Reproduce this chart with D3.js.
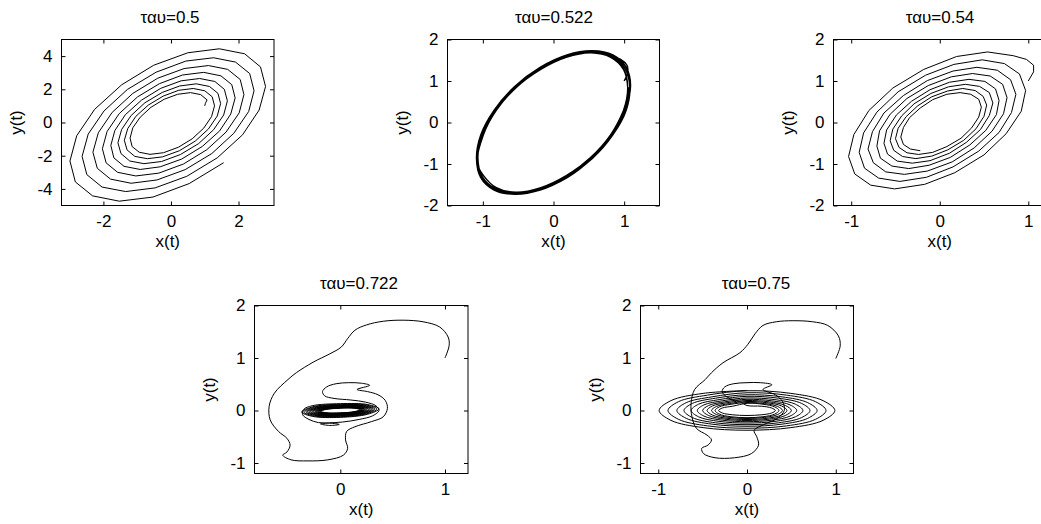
<!DOCTYPE html>
<html>
<head>
<meta charset="utf-8">
<script src="https://cdn.jsdelivr.net/npm/d3@7"></script>
<style>
  body { margin: 0; background: #fff; }
  svg { display: block; overflow: hidden; }
</style>
</head>
<body>
<svg></svg>
<script>
const width = 1041;
const height = 524;

// titles of the five runs
const titles = ['ταυ=0.5', 'ταυ=0.522', 'ταυ=0.54', 'ταυ=0.722', 'ταυ=0.75'];

// tau = 0.5 : spiral growing outwards from (1,1)
const traj050 = [
  [1.00,1.00],[1.02,1.16],
  [1.07,1.36],[0.88,1.68],[0.58,1.80],[0.20,1.70],[-0.20,1.40],[-0.59,0.92],[-0.91,0.32],[-1.13,-0.32],[-1.21,-0.94],[-1.15,-1.45],[-0.94,-1.79],[-0.62,-1.92],[-0.22,-1.82],[0.22,-1.49],[0.63,-0.98],[0.97,-0.34],[1.20,0.35],
  [1.29,1.00],[1.22,1.55],[1.00,1.91],[0.66,2.05],[0.23,1.94],[-0.23,1.59],[-0.67,1.05],[-1.04,0.37],[-1.28,-0.37],[-1.38,-1.07],[-1.30,-1.65],[-1.07,-2.04],[-0.70,-2.18],[-0.25,-2.07],[0.25,-1.70],[0.72,-1.12],[1.11,-0.39],[1.37,0.39],
  [1.47,1.14],[1.39,1.76],[1.14,2.17],[0.75,2.33],[0.26,2.20],[-0.26,1.81],[-0.77,1.19],[-1.18,0.42],[-1.46,-0.42],[-1.57,-1.22],[-1.48,-1.87],[-1.22,-2.32],[-0.80,-2.48],[-0.28,-2.35],[0.28,-1.93],[0.82,-1.27],[1.26,-0.44],[1.56,0.45],
  [1.67,1.30],[1.58,2.00],[1.30,2.47],[0.85,2.65],[0.30,2.51],[-0.30,2.06],[-0.87,1.35],[-1.35,0.47],[-1.66,-0.48],[-1.78,-1.38],[-1.69,-2.13],[-1.39,-2.64],[-0.91,-2.83],[-0.32,-2.67],[0.32,-2.20],[0.93,-1.44],[1.44,-0.51],[1.77,0.51],
  [1.90,1.48],[1.80,2.28],[1.48,2.81],[0.97,3.02],[0.34,2.86],[-0.34,2.34],[-0.99,1.54],[-1.53,0.54],[-1.89,-0.54],[-2.03,-1.58],[-1.92,-2.43],[-1.58,-3.00],[-1.04,-3.22],[-0.36,-3.05],[0.37,-2.50],[1.06,-1.64],[1.63,-0.58],[2.02,0.58],
  [2.16,1.68],[2.05,2.59],[1.68,3.20],[1.11,3.43],[0.39,3.25],[-0.39,2.67],[-1.13,1.75],[-1.74,0.61],[-2.15,-0.62],[-2.31,-1.79],[-2.18,-2.76],[-1.79,-3.41],[-1.18,-3.66],[-0.41,-3.46],[0.42,-2.84],[1.21,-1.87],[1.86,-0.65],[2.30,0.66],
  [2.46,1.91],[2.33,2.95],[1.91,3.64],[1.26,3.90],[0.44,3.70],[-0.44,3.03],[-1.29,1.99],[-1.98,0.70],[-2.45,-0.70],[-2.63,-2.04],[-2.49,-3.14],[-2.04,-3.89],[-1.34,-4.16],[-0.47,-3.94],[0.47,-3.24],[1.37,-2.13],[2.12,-0.74],[2.61,0.75],
  [2.80,2.17],[2.65,3.35],[2.18,4.14],[1.43,4.44],[0.50,4.20],[-0.51,3.45],[-1.46,2.27],[-2.26,0.79],[-2.79,-0.80],[-2.99,-2.32],[-2.83,-3.58],[-2.32,-4.42],[-1.53,-4.74],[-0.53,-4.49],[0.54,-3.68],[1.56,-2.42]
];

// tau = 0.522 : limit cycle, gone round several times
const traj0522 = [
  [1.00,1.00],[1.05,1.20],[1.04,1.38],[0.95,1.52],
  [0.82,1.60],[0.54,1.70],[0.19,1.60],[-0.19,1.30],[-0.54,0.85],[-0.82,0.30],[-1.01,-0.30],[-1.07,-0.85],[-1.01,-1.30],[-0.82,-1.60],[-0.54,-1.70],[-0.19,-1.60],[0.19,-1.30],[0.54,-0.85],[0.82,-0.30],[1.01,0.30],
  [1.09,0.87],[1.03,1.33],[0.84,1.63],[0.55,1.73],[0.19,1.63],[-0.19,1.33],[-0.55,0.87],[-0.84,0.30],[-1.03,-0.30],[-1.09,-0.87],[-1.03,-1.33],[-0.84,-1.63],[-0.55,-1.73],[-0.19,-1.63],[0.19,-1.33],[0.55,-0.87],[0.84,-0.30],[1.03,0.30],
  [1.08,0.85],[1.01,1.31],[0.82,1.61],[0.54,1.71],[0.19,1.61],[-0.19,1.31],[-0.54,0.85],[-0.82,0.30],[-1.01,-0.30],[-1.08,-0.85],[-1.01,-1.31],[-0.82,-1.61],[-0.54,-1.71],[-0.19,-1.61],[0.19,-1.31],[0.54,-0.85],[0.82,-0.30],[1.01,0.30],
  [1.05,0.84],[0.99,1.28],[0.81,1.57],[0.53,1.68],[0.18,1.57],[-0.18,1.28],[-0.53,0.84],[-0.81,0.29],[-0.99,-0.29],[-1.08,-0.98],[-0.99,-1.28],[-0.81,-1.57],[-0.53,-1.68],[-0.18,-1.57],[0.18,-1.28],[0.53,-0.84],[0.81,-0.29],[0.99,0.29],
  [1.05,0.85],[0.99,1.30],[0.81,1.59],[0.52,1.69],[0.17,1.59],[-0.20,1.30],[-0.54,0.85],[-0.83,0.29],[-1.01,-0.29],[-1.07,-0.85],[-1.01,-1.30],[-0.83,-1.59],[-0.54,-1.69],[-0.20,-1.59],[0.17,-1.30],[0.52,-0.85],[0.81,-0.29],[0.99,0.29],
  [1.09,0.86],[1.03,1.32],[0.84,1.61],[0.55,1.72],[0.20,1.61],[-0.18,1.32],[-0.53,0.86],[-0.82,0.30],[-1.01,-0.30],[-1.07,-0.86],[-1.01,-1.32],[-0.82,-1.61],[-0.53,-1.72],[-0.18,-1.61],[0.20,-1.32],[0.55,-0.86],[0.84,-0.30],[1.03,0.30],
  [1.07,0.85]
];

// tau = 0.54 : spiral shrinking inwards from (1,1)
const traj054 = [
  [1.00,1.00],[1.06,1.22],[1.06,1.38],[0.98,1.52],
  [0.83,1.61],[0.54,1.70],[0.19,1.59],[-0.18,1.28],[-0.53,0.83],[-0.80,0.29],[-0.97,-0.29],[-1.03,-0.82],[-0.96,-1.24],[-0.78,-1.51],[-0.51,-1.60],[-0.17,-1.49],[0.17,-1.21],[0.50,-0.78],[0.75,-0.27],[0.92,0.27],
  [0.97,0.77],[0.90,1.17],[0.73,1.42],[0.48,1.51],[0.16,1.40],[-0.16,1.14],[-0.47,0.74],[-0.71,0.25],[-0.86,-0.25],[-0.91,-0.72],[-0.85,-1.10],[-0.69,-1.34],[-0.45,-1.42],[-0.15,-1.32],[0.15,-1.07],[0.44,-0.69],[0.67,-0.24],[0.81,0.24],
  [0.86,0.68],[0.80,1.03],[0.65,1.26],[0.42,1.33],[0.15,1.24],[-0.14,1.01],[-0.41,0.65],[-0.63,0.23],[-0.76,-0.22],[-0.81,-0.64],[-0.75,-0.97],[-0.61,-1.19],[-0.40,-1.25],[-0.14,-1.17],[0.14,-0.95],[0.39,-0.61],[0.59,-0.21],[0.72,0.21],
  [0.76,0.60],[0.71,0.92],[0.57,1.12],[0.37,1.18],[0.13,1.10],[-0.13,0.89],[-0.37,0.58],[-0.56,0.20],[-0.68,-0.20],[-0.71,-0.57],[-0.67,-0.86],[-0.54,-1.05],[-0.35,-1.11],[-0.12,-1.03],[0.12,-0.84],[0.34,-0.54],[0.52,-0.19],[0.64,0.19],
  [0.67,0.53],[0.63,0.81],[0.51,0.99],[0.33,1.04],[0.11,0.97],[-0.11,0.79],[-0.32,0.51],[-0.49,0.18],[-0.60,-0.18],[-0.63,-0.50],[-0.59,-0.76],[-0.48,-0.93],[-0.31,-0.98],[-0.11,-0.92],[0.11,-0.74],[0.30,-0.48],[0.46,-0.17],[0.56,0.17],
  [0.60,0.47],[0.56,0.72],[0.45,0.87],[0.29,0.92],[0.10,0.86],[-0.10,0.70],[-0.29,0.45],[-0.43,0.16],[-0.53,-0.16],[-0.56,-0.44],[-0.52,-0.67],[-0.42,-0.82],[-0.27,-0.87],[-0.09,-0.81],[0.09,-0.66],[0.27,-0.43],[0.41,-0.15],[0.50,0.15],
  [0.53,0.42],[0.49,0.63],[0.40,0.77],[0.26,0.82],[0.09,0.76],[-0.09,0.62],[-0.25,0.40],[-0.38,0.14],[-0.47,-0.14],[-0.50,-0.39],[-0.46,-0.60],[-0.37,-0.73],[-0.24,-0.77],[-0.08,-0.72],[0.08,-0.58],[0.24,-0.38],[0.36,-0.13],[0.44,0.13],
  [0.47,0.37],[0.44,0.56],[0.35,0.68],[0.23,0.72],[0.08,0.68],[-0.08,0.55],[-0.22,0.35],[-0.34,0.12],[-0.41,-0.12],[-0.44,-0.35],[-0.41,-0.53],[-0.33,-0.64],[-0.22,-0.68]
];

// tau = 0.722 : long transient, then a tight ring round the origin
const transient0722 = [
  [1.00,1.00],[1.04,1.24],[1.03,1.40],[0.95,1.59],[0.79,1.69],[0.60,1.72],[0.41,1.70],[0.25,1.63],[0.14,1.53],[0.07,1.37],[0.01,1.21],[-0.10,1.08],[-0.26,0.92],[-0.42,0.72],
  [-0.50,0.59],[-0.63,0.33],[-0.68,0.08],[-0.67,-0.18],[-0.59,-0.40],[-0.51,-0.53],[-0.48,-0.66],[-0.51,-0.79],[-0.55,-0.85],[-0.47,-0.94],[-0.31,-0.96],[-0.12,-0.94],[0.03,-0.85],[0.07,-0.72],[0.05,-0.56],[0.06,-0.40],[0.14,-0.31],[0.30,-0.21],[0.41,-0.12],[0.45,0.04],[0.43,0.19],[0.36,0.30],[0.26,0.36],[0.16,0.40],
  [0.28,0.48],[0.20,0.52],[0.08,0.53],[-0.04,0.51],[-0.13,0.45],[-0.17,0.36],[-0.15,0.28],[-0.06,0.23],[0.10,0.20],[0.24,0.16],[0.34,0.09],[0.37,0.00],[0.31,-0.10],[0.18,-0.17],
  [0.02,-0.22],[-0.10,-0.235],[-0.19,-0.255],[-0.10,-0.285],[-0.01,-0.265],[-0.10,-0.24],[-0.21,-0.23],[-0.30,-0.17],[-0.36,-0.08],[-0.35,0.02],[-0.27,0.09]
];
const ring0722 = [
  [0,0.13],[0.262,0.113],[0.37,0.030],[0.262,-0.071],[0,-0.13],[-0.262,-0.113],[-0.37,-0.030],[-0.262,0.071],
  [0,0.12],[0.247,0.105],[0.35,0.028],[0.247,-0.065],[0,-0.12],[-0.247,-0.105],[-0.35,-0.028],[-0.247,0.065],
  [0,0.11],[0.233,0.097],[0.33,0.026],[0.233,-0.059],[0,-0.11],[-0.233,-0.097],[-0.33,-0.026],[-0.233,0.059],
  [0,0.10],[0.223,0.089],[0.315,0.025],[0.223,-0.053],[0,-0.10],[-0.223,-0.089],[-0.315,-0.025],[-0.223,0.053],
  [0,0.094],[0.212,0.083],[0.30,0.024],[0.212,-0.049],[0,-0.094],[-0.212,-0.083],[-0.30,-0.024],[-0.212,0.049],
  [0,0.086],[0.201,0.077],[0.285,0.023],[0.201,-0.045],[0,-0.086],[-0.201,-0.077],[-0.285,-0.023],[-0.201,0.045],
  [0,0.080],[0.191,0.072],[0.27,0.022],[0.191,-0.042],[0,-0.080],[-0.191,-0.072],[-0.27,-0.022],[-0.191,0.042],
  [0,0.073],[0.180,0.067],[0.255,0.020],[0.180,-0.037],[0,-0.073],[-0.180,-0.067],[-0.255,-0.020],[-0.180,0.037],
  [0,0.067],[0.170,0.061],[0.24,0.019],[0.170,-0.033],[0,-0.067],[-0.170,-0.061],[-0.24,-0.019],[-0.170,0.033],
  [0,0.062],[0.163,0.057],[0.23,0.018],[0.163,-0.031],[0,-0.062],[-0.163,-0.057],[-0.23,-0.018],[-0.163,0.031],
  [0,0.057],[0.156,0.053],[0.22,0.018],[0.156,-0.027],[0,-0.057],[-0.156,-0.053],[-0.22,-0.018],[-0.156,0.027],
  [0,0.053],[0.148,0.049],[0.21,0.017],[0.148,-0.025],[0,-0.053],[-0.148,-0.049],[-0.21,-0.017],[-0.148,0.025],
  [0,0.049],[0.141,0.046],[0.20,0.016],[0.141,-0.024],[0,-0.049],[-0.141,-0.046],[-0.20,-0.016],[-0.141,0.024],
  [0,0.045],[0.134,0.043],[0.19,0.015],[0.134,-0.021],[0,-0.045],[-0.134,-0.043],[-0.19,-0.015],[-0.134,0.021],
  [0,0.044]
];

// tau = 0.75 : same start, then flat loops growing outwards
const transient075 = [
  [1.00,0.99],[1.05,1.23],[1.03,1.42],[0.91,1.62],[0.74,1.69],[0.52,1.71],[0.33,1.69],[0.18,1.62],[0.09,1.46],[0.01,1.26],[-0.08,1.10],[-0.27,0.91],[-0.40,0.72],
  [-0.47,0.59],[-0.59,0.40],[-0.63,0.14],[-0.62,-0.12],[-0.57,-0.34],[-0.45,-0.47],[-0.40,-0.56],[-0.44,-0.66],[-0.51,-0.72],[-0.49,-0.82],[-0.36,-0.90],[-0.14,-0.90],[0.05,-0.82],[0.13,-0.66],[0.11,-0.50],[0.08,-0.38],[0.20,-0.26],[0.34,-0.15],[0.42,0.00],[0.40,0.17],[0.32,0.30],[0.18,0.40],
  [0.28,0.49],[0.15,0.53],[0.00,0.53],[-0.15,0.51],[-0.25,0.45],[-0.28,0.36],[-0.22,0.25],[-0.08,0.17]
];
const ring075 = [
  [0,0.095],[0.16,0.082],[0.277,0.048],[0.32,0],[0.277,-0.048],[0.16,-0.082],[0,-0.095],[-0.16,-0.082],[-0.277,-0.048],[-0.32,0],[-0.277,0.048],[-0.16,0.082],
  [0,0.137],[0.18,0.119],[0.312,0.069],[0.36,0],[0.312,-0.069],[0.18,-0.119],[0,-0.137],[-0.18,-0.119],[-0.312,-0.069],[-0.36,0],[-0.312,0.069],[-0.18,0.119],
  [0,0.152],[0.20,0.132],[0.346,0.076],[0.40,0],[0.346,-0.076],[0.20,-0.132],[0,-0.152],[-0.20,-0.132],[-0.346,-0.076],[-0.40,0],[-0.346,0.076],[-0.20,0.132],
  [0,0.171],[0.225,0.148],[0.390,0.086],[0.45,0],[0.390,-0.086],[0.225,-0.148],[0,-0.171],[-0.225,-0.148],[-0.390,-0.086],[-0.45,0],[-0.390,0.086],[-0.225,0.148],
  [0,0.190],[0.25,0.165],[0.433,0.095],[0.50,0],[0.433,-0.095],[0.25,-0.165],[0,-0.190],[-0.25,-0.165],[-0.433,-0.095],[-0.50,0],[-0.433,0.095],[-0.25,0.165],
  [0,0.213],[0.28,0.184],[0.485,0.107],[0.56,0],[0.485,-0.107],[0.28,-0.184],[0,-0.213],[-0.28,-0.184],[-0.485,-0.107],[-0.56,0],[-0.485,0.107],[-0.28,0.184],
  [0,0.239],[0.315,0.207],[0.546,0.120],[0.63,0],[0.546,-0.120],[0.315,-0.207],[0,-0.239],[-0.315,-0.207],[-0.546,-0.120],[-0.63,0],[-0.546,0.120],[-0.315,0.207],
  [0,0.270],[0.355,0.234],[0.615,0.135],[0.71,0],[0.615,-0.135],[0.355,-0.234],[0,-0.270],[-0.355,-0.234],[-0.615,-0.135],[-0.71,0],[-0.615,0.135],[-0.355,0.234],
  [0,0.300],[0.395,0.260],[0.684,0.150],[0.79,0],[0.684,-0.150],[0.395,-0.260],[0,-0.300],[-0.395,-0.260],[-0.684,-0.150],[-0.79,0],[-0.684,0.150],[-0.395,0.260],
  [0,0.338],[0.445,0.293],[0.771,0.169],[0.89,0],[0.771,-0.169],[0.445,-0.293],[0,-0.338],[-0.445,-0.293],[-0.771,-0.169],[-0.89,0],[-0.771,0.169],[-0.445,0.293],
  [0,0.376],[0.495,0.326],[0.857,0.188],[0.99,0],[0.857,-0.188],[0.495,-0.326],[0,-0.376],[-0.495,-0.326],[-0.857,-0.188],[-0.99,0],[-0.857,0.188],[-0.495,0.326],
  [0,0.38]
];

// axis ranges and tick values per panel
const xDomains = [[-3.24, 3.05], [-1.5, 1.5], [-1.2, 1.2], [-0.82, 1.22], [-1.2, 1.2]];
const yDomains = [[-5, 5], [-2, 2], [-2, 2], [-1.2, 2], [-1.2, 2]];
const xTickValues = [[-2, 0, 2], [-1, 0, 1], [-1, 0, 1], [0, 1], [-1, 0, 1]];
const yTickValues = [[-4, -2, 0, 2, 4], [-2, -1, 0, 1, 2], [-2, -1, 0, 1, 2], [-1, 0, 1, 2], [-1, 0, 1, 2]];

const series = [
  traj050,
  traj0522,
  traj054,
  transient0722.concat(ring0722),
  transient075.concat(ring075)
];

// where each plot box sits on the page
const boxes = [
  { left: 61.5,  top: 39.5,  w: 212.5, h: 166, titleX: 170, curve: d3.curveLinear, lw: 1 },
  { left: 447.5, top: 39.5,  w: 212,   h: 166, titleX: 554, curve: d3.curveCatmullRom.alpha(0.5), lw: 1.4 },
  { left: 833.5, top: 39.5,  w: 212.5, h: 166, titleX: 940, curve: d3.curveLinear, lw: 1 },
  { left: 254.5, top: 305.5, w: 213.5, h: 168, titleX: 359, curve: d3.curveCatmullRom.alpha(0.5), lw: 1 },
  { left: 640.5, top: 305.5, w: 213,   h: 168, titleX: 756, curve: d3.curveCatmullRom.alpha(0.5), lw: 1 }
];

const font = '"Liberation Sans", Arial, Helvetica, sans-serif';
const fontSize = 17;

const svg = d3.select('svg')
  .attr('width', width)
  .attr('height', height);

svg.append('rect').attr('width', width).attr('height', height).attr('fill', '#fff');

const fmt = d => String(d);

boxes.forEach((b, i) => {
  const x = d3.scaleLinear().domain(xDomains[i]).range([0, b.w]);
  const y = d3.scaleLinear().domain(yDomains[i]).range([b.h, 0]);

  const g = svg.append('g').attr('transform', `translate(${b.left},${b.top})`);

  g.append('clipPath').attr('id', 'clip' + i)
    .append('rect').attr('width', b.w).attr('height', b.h);

  const styleAxis = sel => {
    sel.select('.domain').remove();
    sel.selectAll('line').attr('stroke', '#000').attr('stroke-width', 1);
    sel.selectAll('text').attr('font-family', font).attr('font-size', fontSize).attr('fill', '#000');
  };

  // bottom and left carry labels, top and right are mirrored ticks only
  g.append('g').attr('transform', `translate(0,${b.h})`)
    .call(d3.axisBottom(x).tickValues(xTickValues[i]).tickSize(-4).tickPadding(9).tickFormat(fmt))
    .call(styleAxis);
  g.append('g')
    .call(d3.axisTop(x).tickValues(xTickValues[i]).tickSize(-4).tickFormat(''))
    .call(styleAxis);
  g.append('g')
    .call(d3.axisLeft(y).tickValues(yTickValues[i]).tickSize(-4).tickPadding(9).tickFormat(fmt))
    .call(styleAxis);
  g.append('g').attr('transform', `translate(${b.w},0)`)
    .call(d3.axisRight(y).tickValues(yTickValues[i]).tickSize(-4).tickFormat(''))
    .call(styleAxis);

  const line = d3.line()
    .x(d => x(d[0]))
    .y(d => y(d[1]))
    .curve(b.curve);

  g.append('path')
    .datum(series[i])
    .attr('clip-path', `url(#clip${i})`)
    .attr('d', line)
    .attr('fill', 'none')
    .attr('stroke', '#000')
    .attr('stroke-width', b.lw)
    .attr('stroke-linejoin', 'round');

  g.append('rect')
    .attr('width', b.w)
    .attr('height', b.h)
    .attr('fill', 'none')
    .attr('stroke', '#000')
    .attr('stroke-width', 1);

  // labels
  svg.append('text')
    .attr('x', b.titleX)
    .attr('y', b.top - 17)
    .attr('text-anchor', 'middle')
    .attr('font-family', font)
    .attr('font-size', fontSize)
    .text(titles[i]);

  svg.append('text')
    .attr('x', b.left + b.w / 2)
    .attr('y', b.top + b.h + 41)
    .attr('text-anchor', 'middle')
    .attr('font-family', font)
    .attr('font-size', fontSize)
    .text('x(t)');

  svg.append('text')
    .attr('transform', `translate(${b.left - 45},${b.top + b.h / 2}) rotate(-90)`)
    .attr('dy', '0.35em')
    .attr('text-anchor', 'middle')
    .attr('font-family', font)
    .attr('font-size', fontSize)
    .text('y(t)');
});
</script>
</body>
</html>
